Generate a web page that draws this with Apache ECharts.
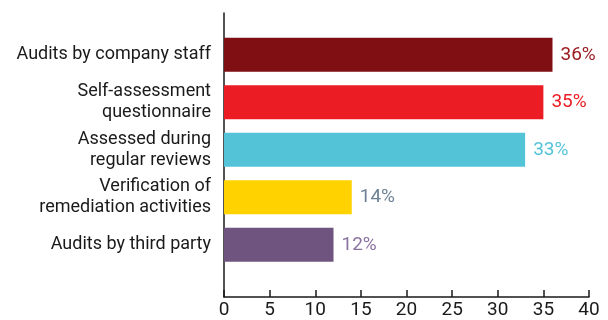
<!DOCTYPE html>
<html>
<head>
<meta charset="utf-8">
<script src="https://cdn.jsdelivr.net/npm/echarts@6/dist/echarts.min.js"></script>
<style>
  html, body { margin: 0; padding: 0; background: #ffffff; }
  #chart { width: 608px; height: 320px; }
</style>
</head>
<body>
<div id="chart"></div>
<script>
// Survey results: how suppliers' compliance is checked (share of respondents, %)
const categories = [
  'Audits by company staff',
  'Self-assessment\nquestionnaire',
  'Assessed during\nregular reviews',
  'Verification of\nremediation activities',
  'Audits by third party'
];
const values = [36, 35, 33, 14, 12];
const barColors = ['#7f0f12', '#ec1c24', '#53c3d8', '#ffd200', '#6f5480'];
const labelColors = ['#9b1c22', '#ec1c24', '#53c3d8', '#6d7f95', '#8a72a0'];
const xTicks = { min: 0, max: 40, interval: 5 };

const FONT = 'Roboto, "Noto Sans", sans-serif';

const chart = echarts.init(document.getElementById('chart'), null, { renderer: 'canvas' });

chart.setOption({
  animation: false,
  backgroundColor: '#ffffff',
  grid: [
    // frame grid: carries the visible axis lines and the tick labels
    { left: 224, right: 19, top: 13, bottom: 22 },
    // bar grid: holds the bars and the category labels
    { left: 224, right: 19, top: 31, bottom: 51.5 }
  ],
  xAxis: [
    {
      gridIndex: 0,
      type: 'value',
      min: xTicks.min, max: xTicks.max, interval: xTicks.interval,
      axisLine: { show: true, lineStyle: { color: '#1a1a1a', width: 1.5 } },
      axisTick: { show: true, inside: true, length: 7, lineStyle: { color: '#1a1a1a', width: 1.5 } },
      axisLabel: { color: '#1a1a1a', fontFamily: FONT, fontSize: 19, margin: 4 },
      splitLine: { show: false }
    },
    {
      gridIndex: 1,
      type: 'value',
      min: xTicks.min, max: xTicks.max,
      show: false
    }
  ],
  yAxis: [
    {
      gridIndex: 0,
      type: 'value',
      axisLine: { show: true, lineStyle: { color: '#1a1a1a', width: 1.5 } },
      axisTick: { show: false },
      axisLabel: { show: false },
      splitLine: { show: false }
    },
    {
      gridIndex: 1,
      type: 'category',
      inverse: true,
      data: categories,
      axisLine: { show: false },
      axisTick: { show: false },
      axisLabel: {
        color: '#1a1a1a', fontFamily: FONT, fontSize: 18, lineHeight: 21, margin: 13, align: 'right'
      }
    }
  ],
  series: [{
    type: 'bar',
    xAxisIndex: 1,
    yAxisIndex: 1,
    barWidth: 34,
    data: values.map((v, i) => ({
      value: v,
      itemStyle: { color: barColors[i] },
      label: { color: labelColors[i] }
    })),
    label: {
      show: true,
      position: 'right',
      distance: 8,
      fontFamily: FONT,
      fontSize: 19,
      formatter: '{c}%'
    }
  }]
});
</script>
</body>
</html>
